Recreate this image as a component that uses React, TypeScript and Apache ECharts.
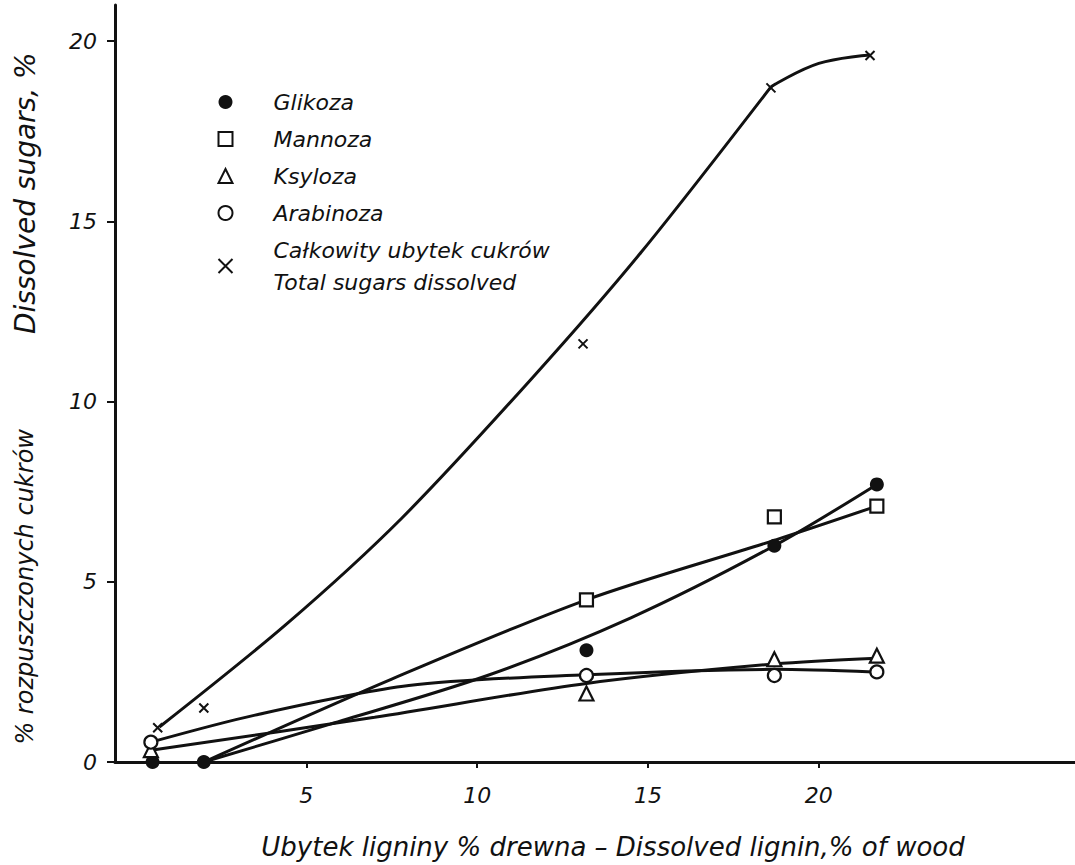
import React, { useEffect, useRef } from "react";
import * as echarts from "echarts";

// ---- tick labels ----
const xTickValues = [5, 10, 15, 20];
const yTickValues = [0, 5, 10, 15, 20];

// ---- measured points [dissolved lignin % of wood, dissolved sugars %] ----
const glikozaPts = [[0.5, 0], [2.0, 0], [13.2, 3.1], [18.7, 6.0], [21.7, 7.7]];
const mannozaPts = [[13.2, 4.5], [18.7, 6.8], [21.7, 7.1]];
const ksylozaPts = [[0.45, 0.33], [13.2, 1.9], [18.7, 2.85], [21.7, 2.95]];
const arabinozaPts = [[0.45, 0.55], [13.2, 2.4], [18.7, 2.4], [21.7, 2.5]];
const totalPts = [[0.65, 0.95], [2.0, 1.5], [13.1, 11.6], [18.6, 18.7], [21.5, 19.6]];

// ---- hand-drawn fitted curves ----
const glikozaCurve = [[2.0, 0], [5.7, 1.05], [10.3, 2.4], [14.5, 4.0], [18.7, 6.0], [21.7, 7.7]];
const mannozaCurve = [[2.0, 0], [7.5, 2.3], [13.2, 4.5], [18.7, 6.15], [21.7, 7.1]];
const ksylozaCurve = [[0.5, 0.33], [7.0, 1.24], [13.2, 2.18], [18.7, 2.72], [21.7, 2.88]];
const arabinozaCurve = [[0.45, 0.55], [3.5, 1.3], [8.0, 2.12], [13.2, 2.42], [18.7, 2.57], [21.6, 2.5]];
const totalCurveRise = [[0.7, 0.97], [4.4, 3.81], [7.8, 6.77], [11.6, 10.64], [14.8, 14.14], [18.6, 18.73]];
const totalCurveTop = [[18.6, 18.73], [20.0, 19.38], [21.5, 19.61]];

const legendNames = [
  "Glikoza",
  "Mannoza",
  "Ksyloza",
  "Arabinoza",
  "Całkowity ubytek cukrów\nTotal sugars dissolved",
];

const INK = "#111";
const FONT = "DejaVu Sans";

export default function App() {
  const ref = useRef<HTMLDivElement>(null);

  useEffect(() => {
    if (!ref.current) return;
    const chart = echarts.init(ref.current, undefined, { renderer: "svg" });

    const curve = (data: number[][], smooth: number) => ({
      type: "line",
      data,
      smooth,
      symbol: "none",
      showSymbol: false,
      silent: true,
      z: 2,
      lineStyle: { color: INK, width: 3 },
    });

    const openStyle = { color: "#fff", borderColor: INK, borderWidth: 2.2, opacity: 1 };

    const option = {
      animation: false,
      backgroundColor: "#fff",
      textStyle: { fontFamily: FONT, fontStyle: "italic", color: INK },
      grid: { left: 115, right: 0, top: 5, bottom: 100 },
      legend: {
        data: legendNames,
        orient: "vertical",
        left: 211,
        top: 81,
        itemWidth: 14,
        itemHeight: 14,
        itemGap: 5,
        selectedMode: false,
        textStyle: {
          fontFamily: FONT,
          fontStyle: "italic",
          fontSize: 22,
          lineHeight: 32,
          color: INK,
          padding: [0, 0, 0, 36],
        },
      },
      xAxis: {
        type: "value",
        min: -0.6,
        max: 27.5,
        name: "Ubytek ligniny % drewna – Dissolved lignin,% of wood",
        nameLocation: "middle",
        nameGap: 72,
        nameTextStyle: {
          fontFamily: FONT,
          fontStyle: "italic",
          fontSize: 26,
          color: INK,
          padding: [0, 0, 0, 36],
        },
        splitLine: { show: false },
        axisLine: { show: true, onZero: false, lineStyle: { color: INK, width: 3 } },
        axisTick: { show: true, inside: false, length: 6, customValues: xTickValues, lineStyle: { color: INK, width: 2 } },
        axisLabel: {
          customValues: xTickValues,
          margin: 22,
          fontFamily: FONT,
          fontStyle: "italic",
          fontSize: 22,
          color: INK,
        },
      },
      yAxis: {
        type: "value",
        min: 0,
        max: 21,
        name: "{a|% rozpuszczonych cukrów}{g|}{b|Dissolved sugars, %}",
        nameLocation: "middle",
        nameRotate: 90,
        nameGap: 76,
        nameTextStyle: {
          fontFamily: FONT,
          fontStyle: "italic",
          fontSize: 24,
          color: INK,
          padding: [0, 30, 0, 0],
          rich: {
            a: { fontFamily: FONT, fontStyle: "italic", fontSize: 24, color: INK },
            g: { width: 95 },
            b: { fontFamily: FONT, fontStyle: "italic", fontSize: 28, color: INK },
          },
        },
        splitLine: { show: false },
        axisLine: { show: true, onZero: false, lineStyle: { color: INK, width: 3 } },
        axisTick: { show: true, inside: false, length: 8, customValues: yTickValues, lineStyle: { color: INK, width: 2 } },
        axisLabel: {
          customValues: yTickValues,
          margin: 18,
          fontFamily: FONT,
          fontStyle: "italic",
          fontSize: 22,
          color: INK,
        },
      },
      series: [
        curve(glikozaCurve, 0.3),
        curve(mannozaCurve, 0.3),
        curve(ksylozaCurve, 0.3),
        curve(arabinozaCurve, 0.3),
        curve(totalCurveRise, 0.3),
        curve(totalCurveTop, 0.4),
        {
          name: legendNames[0],
          type: "scatter",
          data: glikozaPts,
          symbol: "circle",
          symbolSize: 14,
          z: 4,
          itemStyle: { color: INK, opacity: 1 },
        },
        {
          name: legendNames[1],
          type: "scatter",
          data: mannozaPts,
          symbol: "rect",
          symbolSize: 13,
          z: 4,
          itemStyle: openStyle,
        },
        {
          name: legendNames[2],
          type: "scatter",
          data: ksylozaPts,
          symbol: "triangle",
          symbolSize: 14,
          z: 4,
          itemStyle: openStyle,
        },
        {
          name: legendNames[3],
          type: "scatter",
          data: arabinozaPts,
          symbol: "circle",
          symbolSize: 13,
          z: 4,
          itemStyle: openStyle,
        },
        {
          name: legendNames[4],
          type: "scatter",
          data: totalPts,
          symbol: "path://M0 0 L10 10 M10 0 L0 10",
          symbolSize: 9,
          z: 4,
          itemStyle: { color: "none", borderColor: INK, borderWidth: 2, opacity: 1 },
        },
      ],
    };

    chart.setOption(option as any);
    return () => chart.dispose();
  }, []);

  return (
    <div
      ref={ref}
      style={{ position: "fixed", left: 0, top: 0, width: 1075, height: 865, background: "#fff" }}
    />
  );
}
